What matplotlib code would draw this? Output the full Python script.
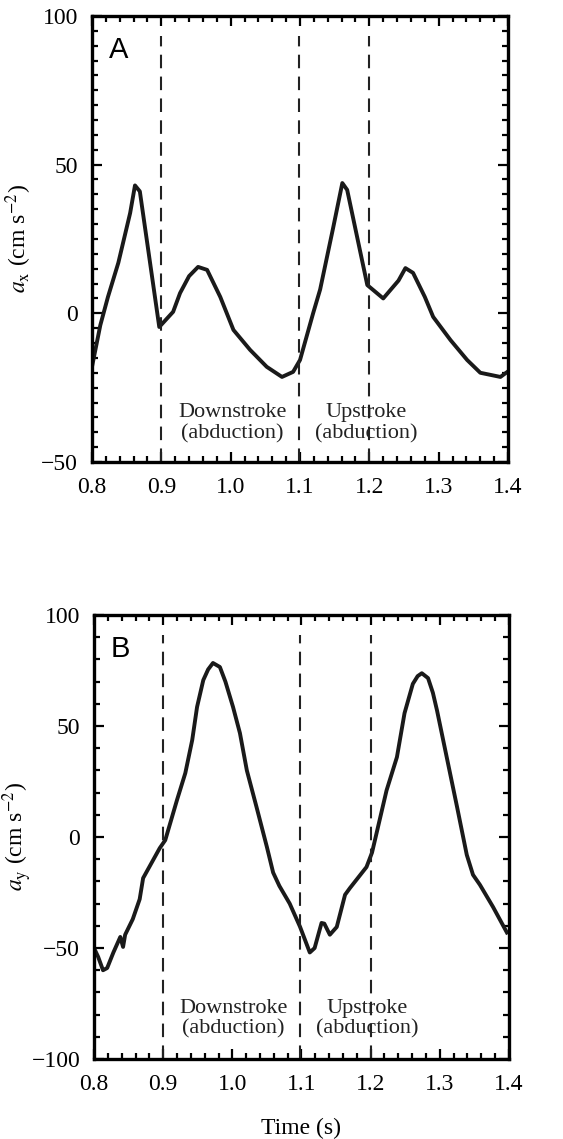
"""Wing acceleration traces (panels A and B)."""
import matplotlib
matplotlib.use("Agg")
import matplotlib.pyplot as plt
from matplotlib.ticker import MultipleLocator

plt.rcParams["font.family"] = ["Liberation Serif", "DejaVu Serif"]
plt.rcParams["mathtext.fontset"] = "stix"

# panel A: a_x
tx = [0.800, 0.806, 0.812, 0.823, 0.838, 0.855, 0.862, 0.869, 0.897, 0.917, 0.927,
      0.940, 0.953, 0.966, 0.985, 1.004, 1.028, 1.052, 1.074, 1.090, 1.100, 1.119,
      1.129, 1.148, 1.161, 1.168, 1.197, 1.220, 1.242, 1.252, 1.263, 1.280,
      1.292, 1.317, 1.341, 1.360, 1.389, 1.399]
ax_vals = [-18, -11, -4, 5.5, 17, 33.7, 43, 41, -4.6, 0.5, 6.8,
           12.5, 15.6, 14.6, 5.5, -5.6, -12.3, -18, -21.4, -19.7, -15.7, 0.1,
           8, 29, 43.8, 41.5, 9.5, 5, 11, 15.2, 13.6, 5.5,
           -1.2, -9, -15.7, -20, -21.4, -19.7]

# panel B: a_y
ty = [0.800, 0.806, 0.813, 0.819, 0.828, 0.838, 0.842, 0.845, 0.856, 0.866,
      0.871, 0.895, 0.903, 0.920, 0.932, 0.942, 0.949, 0.958, 0.965, 0.972, 0.982,
      0.990, 1.001, 1.011, 1.021, 1.035, 1.050, 1.059, 1.068, 1.083, 1.098, 1.112,
      1.119, 1.129, 1.133, 1.141, 1.151, 1.163, 1.170, 1.194, 1.202, 1.223,
      1.238, 1.249, 1.261, 1.268, 1.274, 1.283, 1.290, 1.296, 1.307, 1.325, 1.339,
      1.348, 1.358, 1.377, 1.397]
ay_vals = [-50, -54, -60, -59, -52, -45, -49.5, -44, -37, -28,
           -18.5, -5, -1.4, 16.7, 28.8, 43.7, 58.6, 70.7, 75.5, 78.4, 76.6,
           70, 58.6, 46.8, 30, 13.5, -4.5, -16, -22, -30, -40.5, -52,
           -50, -38.7, -39, -44, -40.5, -26, -23, -13.5, -7, 21,
           36, 55.8, 69, 72.5, 73.8, 71.6, 65, 57, 40.5, 13.5, -8,
           -17, -21.5, -31.5, -43]

phase_lines = [0.9, 1.098, 1.2]
xticks = [0.8, 0.9, 1.0, 1.1, 1.2, 1.3, 1.4]


def style(ax, ylim, ymaj, ymin):
    ax.set_xlim(0.8, 1.4)
    ax.set_ylim(*ylim)
    ax.set_xticks(xticks)
    ax.set_xticklabels([f"{t:.1f}" for t in xticks])
    ax.xaxis.set_minor_locator(MultipleLocator(0.02))
    ax.yaxis.set_major_locator(MultipleLocator(ymaj))
    ax.yaxis.set_minor_locator(MultipleLocator(ymin))
    ax.set_yticklabels([f"{int(v)}".replace("-", "\u2212") for v in ax.get_yticks()])
    ax.tick_params(which="both", direction="in", top=True, right=True,
                   width=1.6, labelsize=17)
    ax.tick_params(axis="x", pad=11)
    ax.tick_params(axis="y", pad=10)
    ax.tick_params(which="major", length=7)
    ax.tick_params(which="minor", length=4)
    for s in ax.spines.values():
        s.set_linewidth(2.4)
    for xv in phase_lines:
        ax.axvline(xv, ymax=0.955, color="#222222", lw=1.5, dashes=(6.5, 4))


fig = plt.figure(figsize=(5.63, 11.39), dpi=100)
axA = fig.add_axes([0.1634, 0.5944, 0.739, 0.3916])
axB = fig.add_axes([0.167, 0.0702, 0.737, 0.3898])

axA.plot(tx, ax_vals, color="#1a1a1a", lw=2.8)
style(axA, (-50, 100), 50, 5)
axA.set_ylabel(r"$a_{\mathrm{x}}$ (cm s$^{-2}$)", fontsize=17)
axA.yaxis.set_label_coords(-0.14, 0.5)
axA.text(0.04, 0.955, "A", transform=axA.transAxes, fontsize=21,
         family="Liberation Sans", va="top", ha="left")
axA.text(1.002, -37, "Downstroke\n(abduction)", ha="center", va="center",
         fontsize=16, color="#222222", linespacing=1.1)
axA.text(1.195, -37, "Upstroke\n(abduction)", ha="center", va="center",
         fontsize=16, color="#222222", linespacing=1.1)

axB.plot(ty, ay_vals, color="#1a1a1a", lw=2.8)
style(axB, (-100, 100), 50, 10)
axB.set_ylabel(r"$a_{\mathrm{y}}$ (cm s$^{-2}$)", fontsize=17)
axB.yaxis.set_label_coords(-0.145, 0.5)
axB.set_xlabel("Time (s)", fontsize=17, labelpad=16)
axB.text(0.04, 0.955, "B", transform=axB.transAxes, fontsize=21,
         family="Liberation Sans", va="top", ha="left")
axB.text(1.002, -82, "Downstroke\n(abduction)", ha="center", va="center",
         fontsize=16, color="#222222", linespacing=1.1)
axB.text(1.195, -82, "Upstroke\n(abduction)", ha="center", va="center",
         fontsize=16, color="#222222", linespacing=1.1)

fig.savefig("out.png", dpi=100)
